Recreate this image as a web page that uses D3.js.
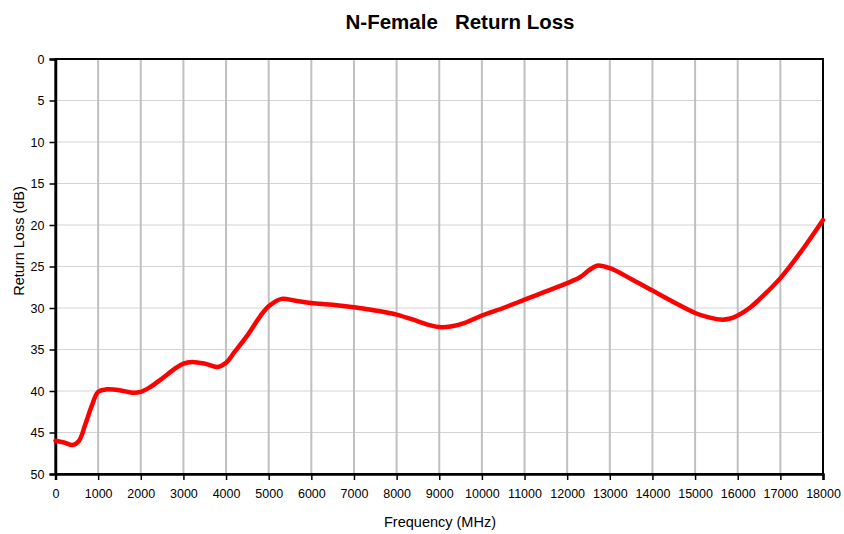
<!DOCTYPE html>
<html>
<head>
<meta charset="utf-8">
<script src="https://cdn.jsdelivr.net/npm/d3@7"></script>
<style>
  body { margin: 0; background: #fff; }
  .chart { width: 844px; height: 534px; }
  text { font-family: "Liberation Sans", Arial, sans-serif; fill: #000; }
</style>
</head>
<body>
<div class="chart"></div>
<script>
// frequency in MHz and return loss in dB
const freq = [0, 200, 400, 550, 700, 850, 1000, 1200, 1500, 1800, 2000, 2200, 2500, 2800, 3000, 3200, 3500, 3800, 4000, 4200,
  4500, 4800, 5000, 5300, 5600, 6000, 6500, 7000, 7500, 8000, 8500, 8800, 9000, 9300, 9600, 10000, 10500, 11000, 11500, 12000,
  12300, 12500, 12700, 13000, 13500, 14000, 14500, 15000, 15300, 15600, 15800, 16000, 16300, 16500, 17000, 17500, 18000];
const loss = [46.0, 46.2, 46.5, 46.0, 44.0, 41.8, 40.1, 39.8, 39.9, 40.2, 40.1, 39.6, 38.5, 37.3, 36.7, 36.5, 36.7, 37.1, 36.6, 35.3,
  33.3, 31.0, 29.8, 28.9, 29.1, 29.4, 29.6, 29.9, 30.3, 30.8, 31.6, 32.1, 32.3, 32.2, 31.8, 30.9, 30.0, 29.0, 28.0, 27.0,
  26.3, 25.5, 24.9, 25.2, 26.5, 27.9, 29.3, 30.6, 31.1, 31.4, 31.3, 30.9, 29.9, 29.0, 26.4, 23.1, 19.4];
const xTicks = d3.range(0, 18001, 1000);
const yTicks = d3.range(0, 51, 5);

const width = 844, height = 534;
const plotL = 55.5, plotR = 823, plotT = 59, plotB = 474;

let svg = d3.select('.chart').append('svg')
  .attr('width', width)
  .attr('height', height);

const x = d3.scaleLinear().domain([0, 18000]).range([plotL, plotR]);
const y = d3.scaleLinear().domain([0, 50]).range([plotT, plotB]);

// grid
svg.selectAll('.hgrid').data(yTicks).enter().append('line')
  .attr('x1', plotL).attr('x2', plotR)
  .attr('y1', d => y(d)).attr('y2', d => y(d))
  .style('stroke', '#d4d4d4').style('stroke-width', 1);
svg.selectAll('.vgrid').data(xTicks).enter().append('line')
  .attr('x1', d => x(d)).attr('x2', d => x(d))
  .attr('y1', plotT).attr('y2', plotB)
  .style('stroke', '#c0c0c0').style('stroke-width', 2);

// frame
svg.append('rect')
  .attr('x', plotL).attr('y', plotT)
  .attr('width', plotR - plotL).attr('height', plotB - plotT)
  .attr('fill', 'none').attr('stroke', '#000').attr('stroke-width', 2);

// axes
const xAxis = svg.append('g')
  .attr('transform', `translate(0,${plotB})`)
  .call(d3.axisBottom(x).tickValues(xTicks).tickSize(6).tickPadding(9).tickFormat(d3.format('d')));
const yAxis = svg.append('g')
  .attr('transform', `translate(${plotL},0)`)
  .call(d3.axisLeft(y).tickValues(yTicks).tickSize(6).tickPadding(5));
[xAxis, yAxis].forEach(g => {
  g.select('.domain').attr('stroke', '#000').attr('stroke-width', 2.5);
  g.selectAll('.tick line').attr('stroke', '#000').attr('stroke-width', 1.5);
  g.selectAll('text').style('font-size', '12.5px').style('font-family', '"Liberation Sans", Arial, sans-serif').attr('fill', '#000');
});

// curve
const line = d3.line()
  .x((d, i) => x(freq[i]))
  .y(d => y(d))
  .curve(d3.curveCatmullRom.alpha(0.5));
svg.append('path')
  .datum(loss)
  .attr('d', line)
  .attr('fill', 'none')
  .attr('stroke', '#ff0000')
  .attr('stroke-width', 4.5)
  .attr('stroke-linejoin', 'round')
  .attr('stroke-linecap', 'round');

// titles
svg.append('text')
  .attr('x', 460).attr('y', 29)
  .attr('text-anchor', 'middle')
  .style('font-size', '20.5px').style('font-weight', 'bold')
  .attr('xml:space', 'preserve')
  .text('N-Female   Return Loss');
svg.append('text')
  .attr('x', 440).attr('y', 527)
  .attr('text-anchor', 'middle')
  .style('font-size', '14.5px')
  .text('Frequency (MHz)');
svg.append('text')
  .attr('transform', 'translate(24,241) rotate(-90)')
  .attr('text-anchor', 'middle')
  .style('font-size', '14.5px')
  .text('Return Loss (dB)');
</script>
</body>
</html>
